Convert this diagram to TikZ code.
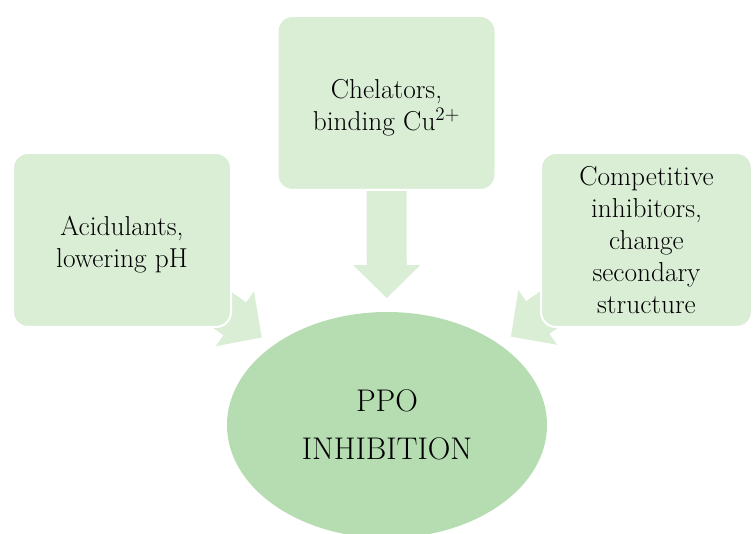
\documentclass[tikz,border=0pt]{standalone}
\usetikzlibrary{arrows.meta,shapes.geometric,backgrounds}

\definecolor{boxgreen}{RGB}{218,238,214}
\definecolor{ovalgreen}{RGB}{182,221,178}

\tikzset{every picture/.style={line width=0.75pt}}
\tikzset{
  greenbox/.style={draw=white, line width=1.5, fill=boxgreen, rounded corners=11.25pt,
    minimum width=163.5pt, minimum height=130.5pt, inner sep=0pt, align=center,
    font=\fontsize{20.5}{24}\selectfont},
  blockarrow/.style={draw=boxgreen, line width=30pt,
    -{Triangle[length=24.75pt, width=48.75pt]}, shorten >=10pt}
}

\begin{document}
\begin{tikzpicture}[x=0.75pt,y=0.75pt,yscale=-1,xscale=1]
\useasboundingbox (0,0) rectangle (754,534);

%Shape: Ellipse [id:ppo]
\node (ppo) [ellipse, fill=ovalgreen, minimum width=240pt, minimum height=169.5pt, inner sep=0pt,
  align=center, font=\fontsize{23.5}{36}\selectfont] at (387,425) {PPO\\INHIBITION};

%Shape: Rounded Rect [id:acid]
\node (acid) [greenbox] at (122,240) {\rule{0pt}{22pt}Acidulants,\\lowering pH};
%Shape: Rounded Rect [id:chel]
\node (chel) [greenbox] at (386.5,103) {\rule{0pt}{22pt}Chelators,\\binding Cu\textsuperscript{2+}};
%Shape: Rounded Rect [id:comp]
\node (comp) [greenbox, minimum width=158.25pt] at (646.5,240)
  {Competitive\\inhibitors,\\change\\secondary\\structure};

%Block Arrows
\begin{scope}[on background layer]
\draw [blockarrow] (acid.center) -- (ppo);
\draw [blockarrow] (chel.center) -- (ppo);
\draw [blockarrow] (comp.center) -- (ppo);
\end{scope}

\end{tikzpicture}
\end{document}
